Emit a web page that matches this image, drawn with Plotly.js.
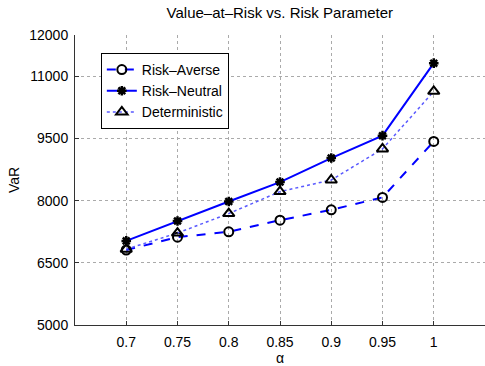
<!DOCTYPE html>
<html>
<head>
<meta charset="utf-8">
<script src="https://cdn.plot.ly/plotly-3.0.1.min.js"></script>
<style>html,body{margin:0;padding:0;background:#fff;}#chart{width:485px;height:366px;}</style>
</head>
<body>
<div id="chart"></div>
<script>
const alpha = [0.7, 0.75, 0.8, 0.85, 0.9, 0.95, 1.0];
const riskAverse = [6810, 7120, 7250, 7530, 7780, 8080, 9430];
const riskNeutral = [7030, 7510, 7980, 8450, 9030, 9570, 11320];
const deterministic = [6830, 7220, 7690, 8220, 8500, 9250, 10640];
const xTicks = [0.7, 0.75, 0.8, 0.85, 0.9, 0.95, 1];
const xTickText = ['0.7', '0.75', '0.8', '0.85', '0.9', '0.95', '1'];
const yTicks = [5000, 6500, 8000, 9500, 11000, 12000];
const yTickText = ['5000', '6500', '8000', '9500', '11000', '12000'];

const font = 'Liberation Sans, Arial, Helvetica, sans-serif';

const traces = [
  {x: alpha, y: riskAverse, name: 'Risk\u2013Averse', mode: 'lines+markers',
   line: {color: 'rgb(0,0,255)', width: 2, dash: 'dash'},
   marker: {symbol: 'circle-open', size: 9, color: 'black', line: {color: 'black', width: 2}}},
  {x: alpha, y: riskNeutral, name: 'Risk\u2013Neutral', mode: 'lines+markers',
   line: {color: 'rgb(0,0,255)', width: 2},
   marker: {symbol: 'asterisk-open', size: 8, color: 'black', line: {color: 'black', width: 2.5}}},
  {x: alpha, y: deterministic, name: 'Deterministic', mode: 'lines+markers',
   line: {color: 'rgb(90,90,255)', width: 1.5, dash: 'dot'},
   marker: {symbol: 'triangle-up-open', size: 10, color: 'black', line: {color: 'black', width: 2}}}
];

const layout = {
  width: 485, height: 366,
  margin: {l: 75, r: 0, t: 35, b: 41, pad: 0},
  paper_bgcolor: 'white', plot_bgcolor: 'white',
  font: {family: font, size: 13, color: 'black'},
  title: {text: 'Value\u2013at\u2013Risk vs. Risk Parameter', font: {size: 15, family: font},
          x: 0.577, xanchor: 'center', y: 0.965, yanchor: 'middle'},
  showlegend: true,
  legend: {x: 0.063, y: 0.938, xanchor: 'left', yanchor: 'top',
           bgcolor: 'white', bordercolor: 'black', borderwidth: 1,
           font: {size: 14, family: font}, tracegroupgap: 0},
  xaxis: {range: [0.65, 1.05], tickvals: xTicks, ticktext: xTickText,
          showgrid: true, gridcolor: '#aaa', griddash: 'dot', gridwidth: 1,
          zeroline: false, showline: true, linecolor: '#333', linewidth: 1,
          ticks: 'inside', ticklen: 4, tickcolor: '#333',
          ticklabelstandoff: 4, tickfont: {size: 14, family: font},
          title: {text: '\u03b1', font: {size: 14, family: font}, standoff: 3}},
  yaxis: {range: [5000, 12000], tickvals: yTicks, ticktext: yTickText,
          showgrid: true, gridcolor: '#aaa', griddash: 'dot', gridwidth: 1,
          zeroline: false, showline: true, linecolor: '#333', linewidth: 1,
          ticks: 'inside', ticklen: 4, tickcolor: '#333',
          ticklabelstandoff: 3, tickfont: {size: 14, family: font},
          title: {text: 'VaR', font: {size: 14, family: font}, standoff: 6}}
};

Plotly.newPlot('chart', traces, layout, {displayModeBar: false, staticPlot: true});
</script>
</body>
</html>
